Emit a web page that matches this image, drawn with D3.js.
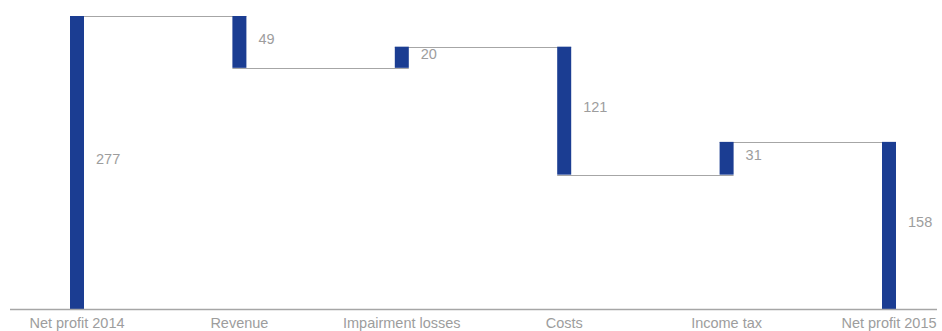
<!DOCTYPE html>
<html>
<head>
<meta charset="utf-8">
<script src="https://cdn.jsdelivr.net/npm/d3@7"></script>
<style>
  html, body { margin: 0; padding: 0; background: #fff; }
  svg { display: block; }
  text { font-family: "Liberation Sans", Arial, sans-serif; }
</style>
</head>
<body>
<svg id="chart" width="942" height="331"></svg>
<script>
const categories = ["Net profit 2014", "Revenue", "Impairment losses", "Costs", "Income tax", "Net profit 2015"];
const changes = [277, -49, 20, -121, 31, 158];
const isTotal = [true, false, false, false, false, true];
const labels = ["277", "49", "20", "121", "31", "158"];

const W = 942, H = 331;
const baseY = 309;
const barW = 14;
const barColor = "#1b3d92";
const lineColor = "#a6a6a6";
const textColor = "#9d9d9d";

let running = 0;
const rows = categories.map((c, i) => {
  let start, end;
  if (isTotal[i]) { start = 0; end = changes[i]; running = changes[i]; }
  else { start = running; end = running + changes[i]; running = end; }
  return { cat: c, start, end, label: labels[i] };
});

const svg = d3.select("#chart");
const x = d3.scalePoint().domain(categories).range([77, 889]);
const y = d3.scaleLinear().domain([0, 277]).range([baseY, 16]);

for (let i = 0; i < rows.length - 1; i++) {
  const lvl = rows[i].end;
  svg.append("line")
    .attr("x1", x(rows[i].cat) - barW / 2)
    .attr("x2", x(rows[i + 1].cat) + barW / 2)
    .attr("y1", Math.round(y(lvl)) + 0.5)
    .attr("y2", Math.round(y(lvl)) + 0.5)
    .attr("stroke", lineColor)
    .attr("stroke-width", 1);
}

svg.selectAll("rect.bar").data(rows).enter().append("rect")
  .attr("class", "bar")
  .attr("x", d => x(d.cat) - barW / 2)
  .attr("y", d => y(Math.max(d.start, d.end)))
  .attr("width", barW)
  .attr("height", d => Math.abs(y(d.start) - y(d.end)))
  .attr("fill", barColor);

svg.selectAll("text.val").data(rows).enter().append("text")
  .attr("class", "val")
  .attr("x", d => x(d.cat) + barW / 2 + 12)
  .attr("y", d => (y(d.start) + y(d.end)) / 2 - 2)
  .attr("dominant-baseline", "middle")
  .attr("font-size", 14.5)
  .attr("fill", textColor)
  .text(d => d.label);

svg.append("line")
  .attr("x1", 10).attr("x2", 937)
  .attr("y1", baseY + 0.5).attr("y2", baseY + 0.5)
  .attr("stroke", lineColor).attr("stroke-width", 1.5);

svg.selectAll("text.cat").data(categories).enter().append("text")
  .attr("class", "cat")
  .attr("x", d => x(d))
  .attr("y", 328)
  .attr("text-anchor", "middle")
  .attr("font-size", 14.5)
  .attr("fill", textColor)
  .text(d => d);
</script>
</body>
</html>
